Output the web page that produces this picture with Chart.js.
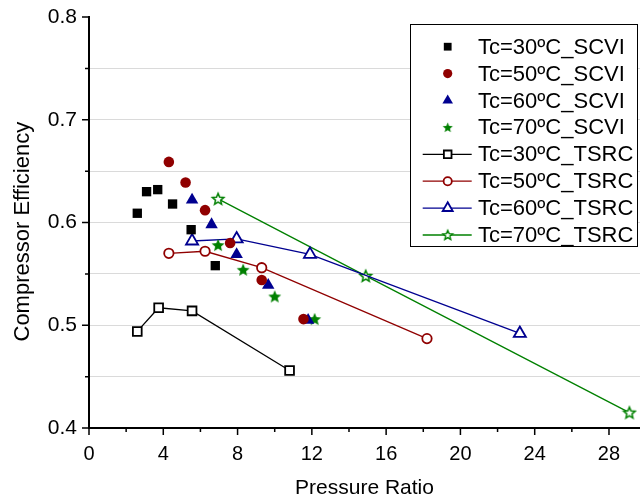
<!DOCTYPE html>
<html>
<head>
<meta charset="utf-8">
<script src="https://cdn.jsdelivr.net/npm/chart.js@4.4.0/dist/chart.umd.min.js"></script>
<style>
  body { margin: 0; background: #fff; }
  #wrap { width: 640px; height: 501px; }
</style>
</head>
<body>
<div id="wrap"><canvas id="effChart" width="640" height="501"></canvas></div>
<script>
// pressure ratio (x) and compressor efficiency (y)
const scvi30X = [2.6, 3.1, 3.7, 4.5, 5.5, 6.8];
const scvi30Y = [0.609, 0.630, 0.632, 0.618, 0.593, 0.558];
const scvi50X = [4.3, 5.2, 6.25, 7.6, 9.3, 11.55];
const scvi50Y = [0.659, 0.639, 0.612, 0.580, 0.544, 0.506];
const scvi60X = [5.55, 6.6, 7.95, 9.65, 11.8];
const scvi60Y = [0.622, 0.598, 0.569, 0.539, 0.505];
const scvi70X = [6.95, 8.3, 10.0, 12.15];
const scvi70Y = [0.578, 0.554, 0.528, 0.506];

const tsrc30X = [2.6, 3.75, 5.55, 10.8];
const tsrc30Y = [0.494, 0.517, 0.514, 0.456];
const tsrc50X = [4.3, 6.25, 9.3, 18.2];
const tsrc50Y = [0.570, 0.572, 0.556, 0.487];
const tsrc60X = [5.55, 7.95, 11.9, 23.2];
const tsrc60Y = [0.582, 0.584, 0.569, 0.492];
const tsrc70X = [6.95, 14.9, 29.1];
const tsrc70Y = [0.623, 0.548, 0.415];

const seriesLabels = [
    "Tc=30ºC_SCVI", "Tc=50ºC_SCVI", "Tc=60ºC_SCVI", "Tc=70ºC_SCVI",
    "Tc=30ºC_TSRC", "Tc=50ºC_TSRC", "Tc=60ºC_TSRC", "Tc=70ºC_TSRC"
];

const xTicks = [0, 2, 4, 6, 8, 10, 12, 14, 16, 18, 20, 22, 24, 26, 28];
const yTicks = [0.4, 0.45, 0.5, 0.55, 0.6, 0.65, 0.7, 0.75, 0.8];

const BLACK = '#000000';
const RED = '#900000';
const BLUE = '#000090';
const GREEN = '#008000';
const FONT = "'Liberation Sans', Arial, sans-serif";

function pts(xs, ys) {
    return xs.map((x, i) => ({ x: x, y: ys[i] }));
}

// five-pointed star as an image, Chart.js has no such point style
function starImage(r, fill, stroke, lw) {
    const size = Math.ceil(2 * r + lw + 2);
    const c = document.createElement('canvas');
    c.width = size;
    c.height = size;
    const g = c.getContext('2d');
    const cx = size / 2, cy = size / 2 + r * 0.08;
    g.beginPath();
    for (let i = 0; i < 10; i++) {
        const rad = i % 2 === 0 ? r : r * 0.45;
        const a = -Math.PI / 2 + i * Math.PI / 5;
        const px = cx + Math.cos(a) * rad;
        const py = cy + Math.sin(a) * rad;
        if (i === 0) g.moveTo(px, py); else g.lineTo(px, py);
    }
    g.closePath();
    if (fill) { g.fillStyle = fill; g.fill(); }
    if (stroke) { g.strokeStyle = stroke; g.lineWidth = lw; g.stroke(); }
    return c;
}

function scvi(label, xs, ys, color, style, radius, legendR) {
    return {
        label: label,
        data: pts(xs, ys),
        showLine: false,
        pointStyle: style,
        pointRadius: radius,
        pointBackgroundColor: color,
        pointBorderColor: color,
        pointBorderWidth: 0,
        legendRadius: legendR,
        legendStyle: style,
        legendLine: false
    };
}

function tsrc(label, xs, ys, color, style, radius, legendR) {
    return {
        label: label,
        data: pts(xs, ys),
        showLine: true,
        borderColor: color,
        borderWidth: 1.3,
        pointStyle: style,
        pointRadius: radius,
        pointBackgroundColor: '#ffffff',
        pointBorderColor: color,
        pointBorderWidth: 1.8,
        legendRadius: legendR,
        legendStyle: style,
        legendLine: true
    };
}

const ds70s = scvi(seriesLabels[3], scvi70X, scvi70Y, GREEN, starImage(6.8, GREEN, null, 0), 6, 5);
ds70s.legendStyle = starImage(5.3, GREEN, null, 0);
const ds70t = tsrc(seriesLabels[7], tsrc70X, tsrc70Y, GREEN, starImage(6, '#ffffff', GREEN, 1.5), 6, 5);
ds70t.legendStyle = starImage(5, '#ffffff', GREEN, 1.4);

const datasets = [
    scvi(seriesLabels[0], scvi30X, scvi30Y, BLACK, 'rect', 6.6, 5.5),
    scvi(seriesLabels[1], scvi50X, scvi50Y, RED, 'circle', 5.3, 4.6),
    scvi(seriesLabels[2], scvi60X, scvi60Y, BLUE, 'triangle', 7.2, 6.1),
    ds70s,
    tsrc(seriesLabels[4], tsrc30X, tsrc30Y, BLACK, 'rect', 6.2, 5.4),
    tsrc(seriesLabels[5], tsrc50X, tsrc50Y, RED, 'circle', 4.7, 4.1),
    tsrc(seriesLabels[6], tsrc60X, tsrc60Y, BLUE, 'triangle', 7, 5.8),
    ds70t
];

// major / minor tick marks drawn outward from the axes
const tickMarks = {
    id: 'tickMarks',
    afterDraw(chart) {
        const { ctx, scales: { x, y } } = chart;
        ctx.save();
        ctx.strokeStyle = '#000';
        ctx.lineWidth = 1.5;
        ctx.beginPath();
        xTicks.forEach(v => {
            const px = x.getPixelForValue(v);
            const len = v % 4 === 0 ? 7 : 4;
            ctx.moveTo(px, x.top);
            ctx.lineTo(px, x.top + len);
        });
        yTicks.forEach(v => {
            const py = y.getPixelForValue(v);
            const len = Math.round(v * 100) % 10 === 0 ? 7 : 4;
            ctx.moveTo(y.right, py);
            ctx.lineTo(y.right - len, py);
        });
        ctx.stroke();
        ctx.restore();
    }
};

// boxed legend inside the plot, top right
const boxLegend = {
    id: 'boxLegend',
    afterDraw(chart) {
        const ctx = chart.ctx;
        const left = 410, top = 24, w = 227, h = 222;
        const rowH = 26.9, firstRow = top + 22.7;
        ctx.save();
        ctx.fillStyle = '#fff';
        ctx.fillRect(left, top, w, h);
        ctx.strokeStyle = '#000';
        ctx.lineWidth = 1;
        ctx.strokeRect(left + 0.5, top + 0.5, w, h);
        chart.data.datasets.forEach((ds, i) => {
            const cy = firstRow + i * rowH;
            const mx = left + 37.7;
            if (ds.legendLine) {
                ctx.strokeStyle = ds.borderColor;
                ctx.lineWidth = 1.3;
                ctx.beginPath();
                ctx.moveTo(left + 12.7, cy);
                ctx.lineTo(left + 61.7, cy);
                ctx.stroke();
            }
            ctx.fillStyle = ds.pointBackgroundColor;
            ctx.strokeStyle = ds.pointBorderColor;
            ctx.lineWidth = ds.pointBorderWidth;
            Chart.helpers.drawPoint(ctx, {
                pointStyle: ds.legendStyle,
                rotation: 0,
                radius: ds.legendRadius,
                borderWidth: ds.pointBorderWidth
            }, mx, cy);
            ctx.fillStyle = '#000';
            ctx.font = '22px ' + FONT;
            ctx.textBaseline = 'middle';
            ctx.textAlign = 'left';
            ctx.fillText(ds.label, left + 68, cy + 1);
        });
        ctx.restore();
    }
};

new Chart(document.getElementById('effChart'), {
    type: 'scatter',
    data: { datasets: datasets },
    plugins: [tickMarks, boxLegend],
    options: {
        responsive: false,
        animation: false,
        devicePixelRatio: 1,
        layout: { autoPadding: false, padding: { top: 17, right: 0, left: 0, bottom: 0 } },
        plugins: {
            legend: { display: false },
            tooltip: { enabled: false }
        },
        scales: {
            x: {
                type: 'linear',
                min: 0,
                max: 29.67,
                afterBuildTicks: s => { s.ticks = xTicks.map(v => ({ value: v })); },
                afterFit: s => { s.height = 73; s.paddingLeft = 0; s.paddingRight = 0; },
                grid: { display: false, drawTicks: false },
                border: { display: true, color: '#000', width: 2 },
                ticks: {
                    autoSkip: false,
                    maxRotation: 0,
                    padding: 14,
                    color: '#000',
                    font: { family: FONT, size: 20 },
                    callback: v => (v % 4 === 0 ? String(v) : '')
                },
                title: {
                    display: true,
                    text: 'Pressure Ratio',
                    color: '#000',
                    font: { family: FONT, size: 21 },
                    padding: 0
                }
            },
            y: {
                type: 'linear',
                min: 0.4,
                max: 0.8,
                afterBuildTicks: s => { s.ticks = yTicks.map(v => ({ value: v })); },
                afterFit: s => { s.width = 89; s.paddingTop = 0; s.paddingBottom = 0; },
                grid: {
                    drawTicks: false,
                    color: c => (c.tick && (c.tick.value < 0.41 || c.tick.value > 0.79)) ? 'rgba(0,0,0,0)' : '#dadada',
                    lineWidth: 1
                },
                border: { display: true, color: '#000', width: 2 },
                ticks: {
                    padding: 12,
                    color: '#000',
                    font: { family: FONT, size: 21 },
                    callback: v => {
                        const t = Math.round(v * 100);
                        return t % 10 === 0 ? (t / 100).toFixed(1) : '';
                    }
                },
                title: {
                    display: true,
                    // trailing spaces nudge the centred title down to where the original sits
                    text: 'Compressor Efficiency   ',
                    color: '#000',
                    font: { family: FONT, size: 22 },
                    padding: 10
                }
            }
        }
    }
});
</script>
</body>
</html>
